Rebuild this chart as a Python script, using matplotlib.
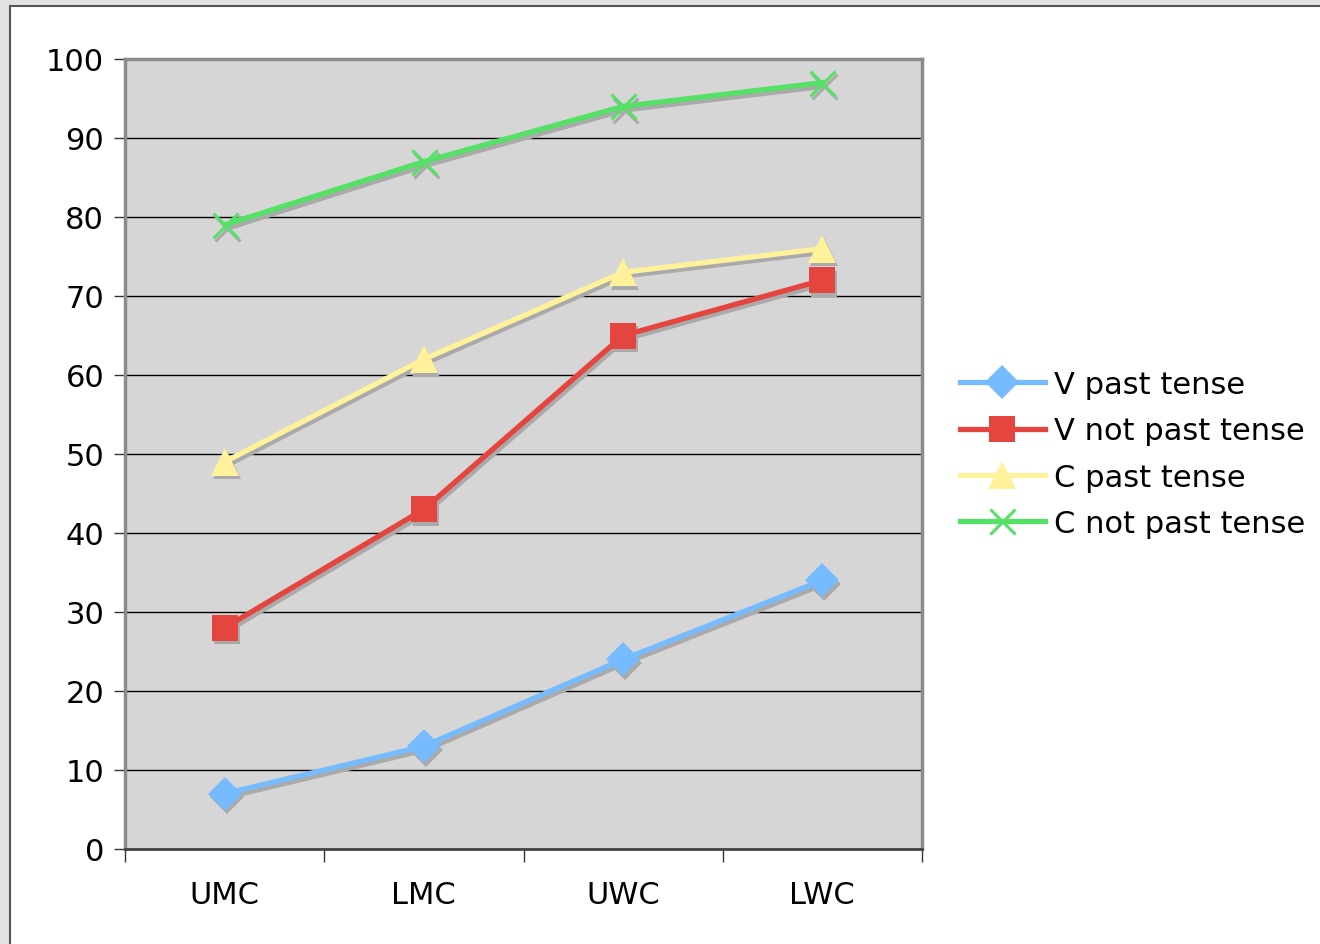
import matplotlib
matplotlib.use("Agg")
import matplotlib.pyplot as plt
import matplotlib.transforms as mtransforms
from matplotlib.patches import Rectangle
import numpy as np

categories = ["UMC", "LMC", "UWC", "LWC"]
v_past = [7, 13, 24, 34]
v_not_past = [28, 43, 65, 72]
c_past = [49, 62, 73, 76]
c_not_past = [79, 87, 94, 97]

series = [
    ("V past tense", v_past, "#77bbff", "D", 17),
    ("V not past tense", v_not_past, "#e5453f", "s", 19),
    ("C past tense", c_past, "#fff29a", "^", 20),
    ("C not past tense", c_not_past, "#55e066", "x", 18),
]

plt.rcParams["font.family"] = "DejaVu Sans"

fig = plt.figure(figsize=(13.2, 9.45), dpi=100, facecolor="#e2e2e2")
# white card with dark frame
fig.patches.append(Rectangle((10 / 1320, -0.01), 1.02, 1 - 7 / 945 + 0.01,
                             transform=fig.transFigure, facecolor="white",
                             edgecolor="#555555", linewidth=1.5, zorder=-1))

ax = fig.add_axes([125 / 1320, 1 - 850 / 945, (922 - 125) / 1320, (850 - 60) / 945])
ax.set_zorder(1)
ax.set_facecolor("#d6d6d6")

x = np.arange(len(categories))
shadow = mtransforms.offset_copy(ax.transData, fig=fig, x=2, y=-3.5, units="dots")

for label, vals, col, mk, ms in series:
    mew = 2.2 if mk == "x" else 0
    ax.plot(x, vals, color="#aaaaaa", lw=3.8, marker=mk, ms=ms, mew=mew,
            mec="#aaaaaa", transform=shadow, zorder=3, clip_on=False)
for label, vals, col, mk, ms in series:
    mew = 2.2 if mk == "x" else 0
    ax.plot(x, vals, color=col, lw=3.8, marker=mk, ms=ms, mew=mew, mec=col,
            label=label, zorder=4, clip_on=False)

ax.set_xlim(-0.5, 3.5)
ax.set_ylim(0, 100)
ax.set_yticks(range(0, 101, 10))
ax.yaxis.grid(True, color="#000000", lw=1.0)
ax.set_axisbelow(True)

ax.set_xticks(x)
ax.set_xticklabels(categories)
ax.set_xticks(np.arange(-0.5, 4, 1), minor=True)
ax.tick_params(axis="x", which="major", length=0, pad=22, labelsize=22)
ax.tick_params(axis="x", which="minor", length=9, width=1, color="#333333")
ax.tick_params(axis="y", length=8, width=1, color="#333333", labelsize=22, pad=7)

for side in ["top", "right", "left"]:
    ax.spines[side].set_color("#8c8c8c")
    ax.spines[side].set_linewidth(2.5)
ax.spines["bottom"].set_color("#444444")
ax.spines["bottom"].set_linewidth(2)

ax.legend(loc="center left", bbox_to_anchor=(960 / 1320, 1 - 455 / 945),
          bbox_transform=fig.transFigure, frameon=False, fontsize=22,
          handlelength=2.78, handletextpad=0.3, labelspacing=0.57,
          borderaxespad=0, borderpad=0)

fig.savefig("out.png", dpi=100, facecolor=fig.get_facecolor())
